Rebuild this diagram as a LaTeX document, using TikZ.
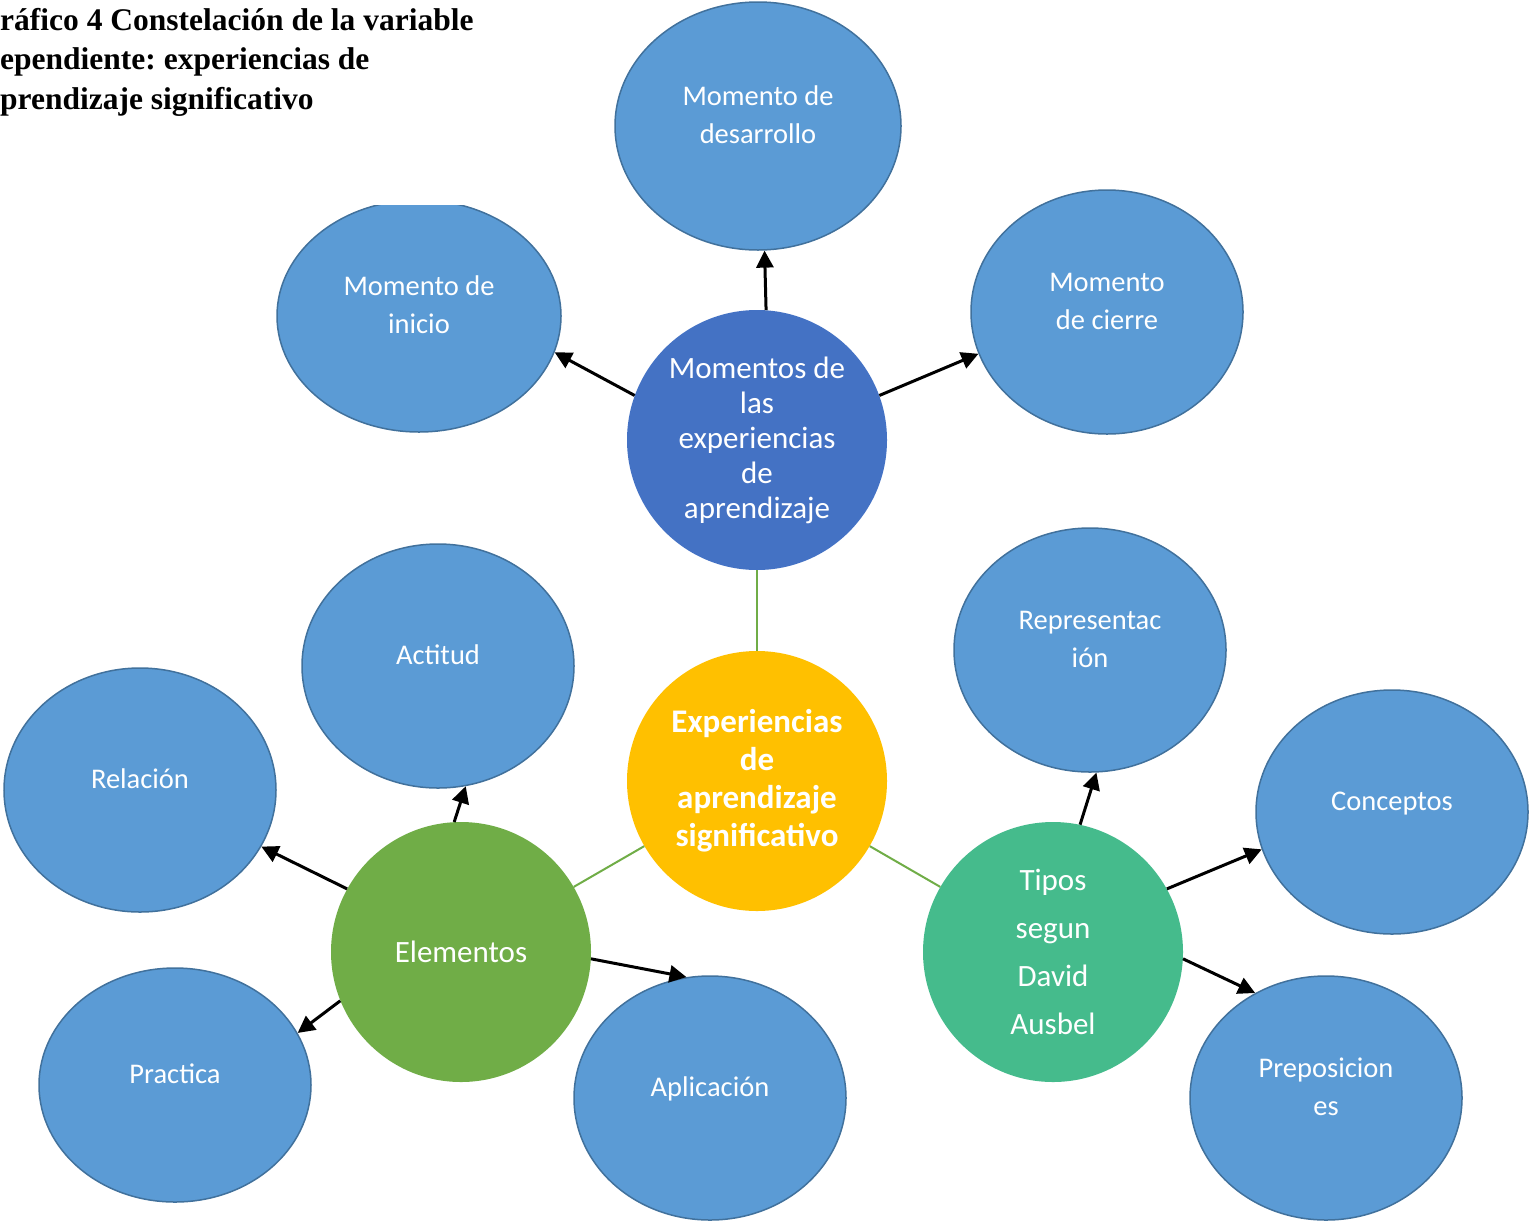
\documentclass[tikz,border=0pt]{standalone}
\usepackage{fontspec}
\setmainfont{Carlito}
\newfontfamily\captionfont{Liberation Serif}
\usetikzlibrary{shapes.geometric,arrows.meta}
\frenchspacing

\definecolor{ovalfill}{HTML}{5B9BD5}
\definecolor{ovaledge}{HTML}{41719C}
\definecolor{momblue}{HTML}{4472C4}
\definecolor{coregold}{HTML}{FFC000}
\definecolor{elemgreen}{HTML}{70AD47}
\definecolor{tiposteal}{HTML}{45BB8C}

\tikzset{
  oval/.style={ellipse, draw=ovaledge, line width=1.5pt, fill=ovalfill, text=white,
    inner sep=0pt, minimum width=272pt, minimum height=244pt, align=center,
    text depth=22pt, font=\fontsize{28.5}{38}\selectfont},
  hub/.style={circle, fill=#1, text=white, inner sep=0pt, minimum size=260pt,
    align=center, font=\fontsize{31}{35}\selectfont},
  link/.style={elemgreen, line width=2pt},
  arr/.style={line width=3pt, -{Triangle[length=17pt,width=17pt]}}
}

\begin{document}
\begin{tikzpicture}[x=1pt, y=-1pt]
        \useasboundingbox (0,0) rectangle (1533,1224);

        % Momentos (top group)
        \node[hub=momblue] (mom) at (757,440) {Momentos de\\las\\experiencias\\de\\aprendizaje};
        \node[oval, minimum width=286pt, minimum height=248pt] (desarrollo) at (758,126) {Momento de\\desarrollo};
        \node[oval, minimum width=284pt, minimum height=232pt] (inicio) at (419,316) {Momento de\\inicio};
        \node[oval] (cierre) at (1107,312) {Momento\\de cierre};

        % Caption (its white box cuts the top of the oval)
        \fill[white] (0,0) rectangle (480,205);
        \node[anchor=north west, inner sep=0pt, align=left,
              font=\captionfont\bfseries\fontsize{31.5}{39.5}\selectfont] (caption) at (0,8)
              {ráfico 4 Constelación de la variable\\ependiente: experiencias de\\prendizaje significativo};

        % Center
        \node[hub=coregold, font=\bfseries\fontsize{33}{38}\selectfont] (exp) at (757,781) {Experiencias\\de\\aprendizaje\\significativo};

        % Elementos (left group)
        \node[hub=elemgreen] (elem) at (461,952) {Elementos};
        \node[oval] (actitud) at (438,666) {Actitud};
        \node[oval] (relacion) at (140,790) {Relación};
        \node[oval, minimum height=234pt] (practica) at (175,1085) {Practica};
        \node[oval] (aplicacion) at (710,1098) {Aplicación};

        % Tipos (right group)
        \node[hub=tiposteal, font=\fontsize{31}{48}\selectfont] (tipos) at (1053,952) {Tipos\\segun\\David\\Ausbel};
        \node[oval] (repr) at (1090,650) {Representac\\ión};
        \node[oval] (conceptos) at (1392,812) {Conceptos};
        \node[oval] (prepos) at (1326,1098) {Preposicion\\es};

        % Green links
        \draw[link] (exp) -- (mom);
        \draw[link] (exp) -- (elem);
        \draw[link] (exp) -- (tipos);

        % Arrows
        \draw[arr] (mom.86.5) -- (desarrollo.-87);
        \draw[arr] (mom.160) -- (inicio.-15);
        \draw[arr] (mom.20) -- (cierre.198);
        \draw[arr] (elem.93) -- (actitud.-77);
        \draw[arr] (elem.151) -- (relacion.-25);
        \draw[arr] (elem.202) -- (practica.23);
        \draw[arr] (elem.-3) -- (aplicacion.101);
        \draw[arr] (tipos.78) -- (repr.-87);
        \draw[arr] (tipos.29) -- (conceptos.196);
        \draw[arr] (tipos.-3) -- (prepos.124);
    \end{tikzpicture}
\end{document}
